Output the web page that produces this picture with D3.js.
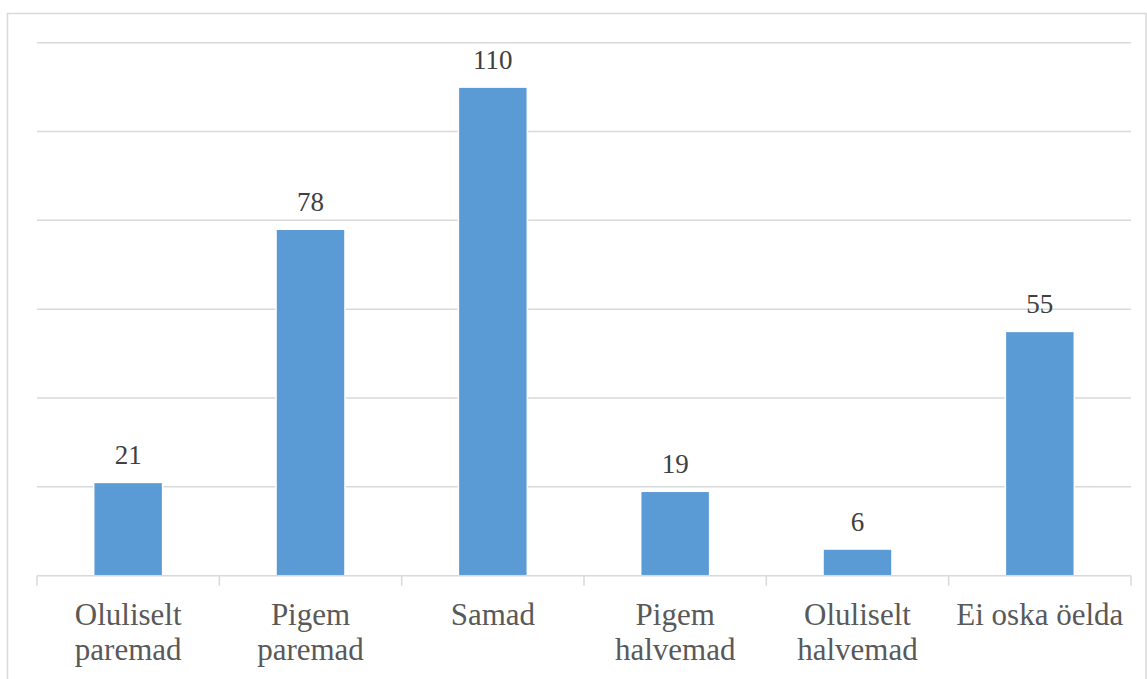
<!DOCTYPE html>
<html>
<head>
<meta charset="utf-8">
<script src="https://cdn.jsdelivr.net/npm/d3@7"></script>
</head>
<body style="margin:0">
<svg id="chart" width="1147" height="679"></svg>
<script>
// Category labels (split into lines) and answer counts
const categories = [
  ["Oluliselt", "paremad"],
  ["Pigem", "paremad"],
  ["Samad"],
  ["Pigem", "halvemad"],
  ["Oluliselt", "halvemad"],
  ["Ei oska öelda"]
];
const values = [21, 78, 110, 19, 6, 55];
const yTicks = [0, 20, 40, 60, 80, 100, 120];

const W = 1147, H = 679;
const SERIF = '"Times New Roman", "Liberation Serif", Tinos, FreeSerif, serif';
const margin = { left: 37, right: 16, top: 42.7, bottom: 103.3 };
const svg = d3.select("#chart");

// Outer chart frame
svg.append("rect")
  .attr("x", 7.5).attr("y", 13.5)
  .attr("width", 1138.5).attr("height", 700)
  .attr("fill", "none").attr("stroke", "#d9d9d9").attr("stroke-width", 1.5);

const keys = categories.map(c => c.join(" "));
const x = d3.scaleBand()
  .domain(keys)
  .range([margin.left, W - margin.right])
  .paddingInner(0).paddingOuter(0);

const y = d3.scaleLinear()
  .domain([0, 120])
  .range([H - margin.bottom, margin.top]);

// Horizontal gridlines
svg.append("g")
  .selectAll("line")
  .data(yTicks.slice(1))
  .join("line")
  .attr("x1", margin.left).attr("x2", W - margin.right)
  .attr("y1", d => y(d)).attr("y2", d => y(d))
  .attr("stroke", "#d9d9d9").attr("stroke-width", 1.5);

// Bars
const barFrac = 0.378;
const bw = x.bandwidth() * barFrac;
svg.append("g")
  .selectAll("rect")
  .data(values)
  .join("rect")
  .attr("x", (d, i) => x(keys[i]) + (x.bandwidth() - bw) / 2)
  .attr("y", d => y(d))
  .attr("width", bw)
  .attr("height", d => y(0) - y(d))
  .attr("fill", "#5b9bd5")
  .attr("stroke", "#fff").attr("stroke-width", 1.5);

// Category axis with boundary ticks
const axisY = y(0);
const axisG = svg.append("g");
axisG.append("line")
  .attr("x1", margin.left).attr("x2", W - margin.right)
  .attr("y1", axisY).attr("y2", axisY)
  .attr("stroke", "#d9d9d9").attr("stroke-width", 1.5);
const bounds = keys.map(k => x(k)).concat([x(keys[keys.length - 1]) + x.bandwidth()]);
axisG.selectAll("line.tick")
  .data(bounds)
  .join("line")
  .attr("class", "tick")
  .attr("x1", d => d).attr("x2", d => d)
  .attr("y1", axisY).attr("y2", axisY + 10)
  .attr("stroke", "#d9d9d9").attr("stroke-width", 1.5);

// Category labels, one text element per line
categories.forEach((lines, i) => {
  lines.forEach((line, j) => {
    svg.append("text")
      .attr("x", x(keys[i]) + x.bandwidth() / 2)
      .attr("y", 625 + j * 35)
      .attr("text-anchor", "middle")
      .style("font-family", SERIF)
      .style("font-size", "31px")
      .style("fill", "#595959")
      .text(line);
  });
});

// Value labels above bars
svg.append("g")
  .selectAll("text")
  .data(values)
  .join("text")
  .attr("x", (d, i) => x(keys[i]) + x.bandwidth() / 2)
  .attr("y", d => y(d) - 18)
  .attr("text-anchor", "middle")
  .style("font-family", SERIF)
  .style("font-size", "27px")
  .style("fill", "#404040")
  .text(d => d);
</script>
</body>
</html>
